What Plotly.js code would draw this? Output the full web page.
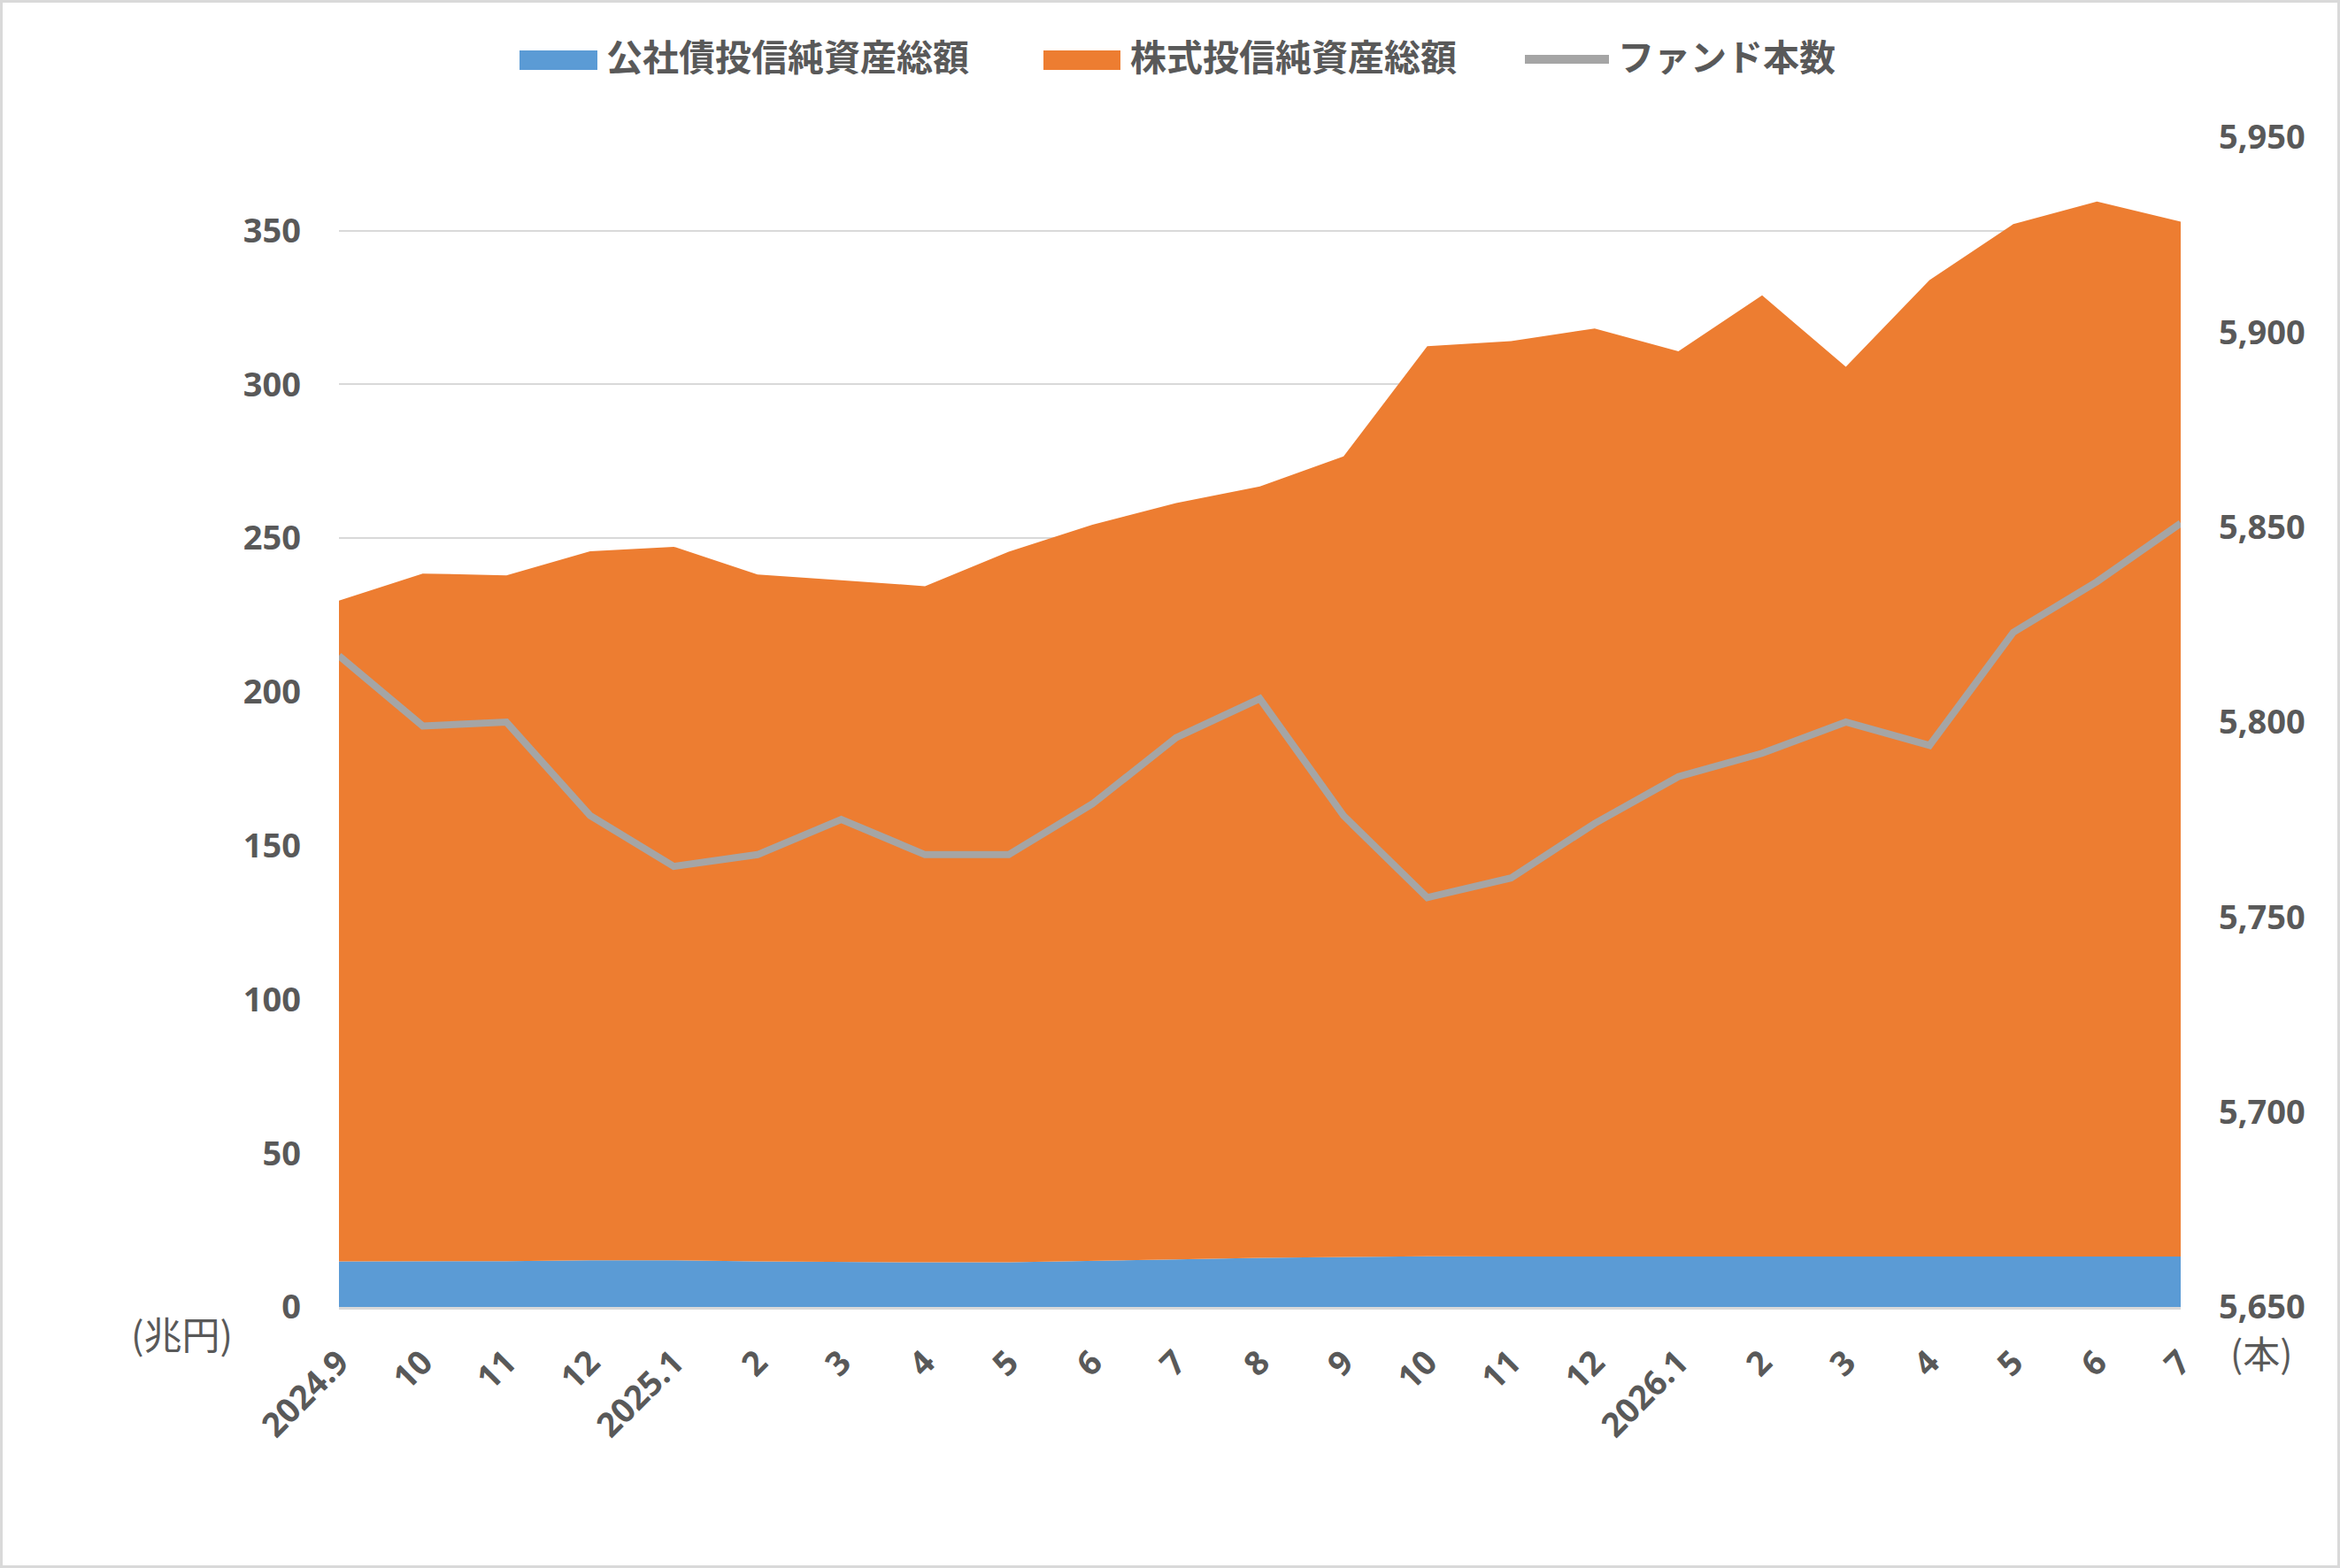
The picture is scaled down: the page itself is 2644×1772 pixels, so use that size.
<!DOCTYPE html>
<html>
<head>
<meta charset="utf-8">
<script src="https://cdn.plot.ly/plotly-3.0.1.min.js"></script>
<style>
  html, body { margin: 0; padding: 0; background: #ffffff; }
  #wrap { position: relative; width: 2644px; height: 1772px; }
  #chart { width: 2644px; height: 1772px; }
  #frame { position: absolute; left: 0; top: 0; width: 2644px; height: 1772px;
           box-sizing: border-box; border: 3px solid #d9d9d9; pointer-events: none; }
</style>
</head>
<body>
<div id="wrap"><div id="chart"></div><div id="frame"></div></div>
<script>
// ---- data ----
const monthLabels = ["2024.9","10","11","12","2025.1","2","3","4","5","6","7","8","9","10","11","12","2026.1","2","3","4","5","6","7"];
const bondNetAssets = [14.8, 14.8, 14.9, 15.2, 15.2, 14.8, 14.6, 14.5, 14.5, 14.9, 15.5, 16.0, 16.2, 16.5, 16.4, 16.4, 16.3, 16.4, 16.3, 16.3, 16.3, 16.4, 16.4];
const stockNetAssets = [214.9, 223.7, 223.0, 230.5, 232.0, 223.4, 221.7, 219.9, 231.1, 239.5, 245.9, 250.8, 260.4, 295.9, 297.7, 301.8, 294.5, 312.6, 289.4, 317.6, 335.8, 343.1, 336.5];
const fundCount = [5817, 5799, 5800, 5776, 5763, 5766, 5775, 5766, 5766, 5779, 5796, 5806, 5776, 5755, 5760, 5774, 5786, 5792, 5800, 5794, 5823, 5836, 5851];
const seriesNames = ["公社債投信純資産総額", "株式投信純資産総額", "ファンド本数"];
const leftTicks = [0, 50, 100, 150, 200, 250, 300, 350];
const rightTicks = [5650, 5700, 5750, 5800, 5850, 5900, 5950];
const leftUnit = "(兆円)";
const rightUnit = "(本)";

const xIdx = monthLabels.map((_, i) => i);

const BLUE = "#5b9bd5", ORANGE = "#ed7d31", GRAY = "#a5a5a5", TXT = "#595959", GRID = "#d9d9d9";
const NUMFONT = "Open Sans, Noto Sans CJK JP, sans-serif";
const JPFONT = "Noto Sans CJK JP, sans-serif";

const traces = [
  { x: xIdx, y: bondNetAssets, name: seriesNames[0], type: "scatter", mode: "lines",
    stackgroup: "assets", line: { width: 0, color: BLUE }, fillcolor: BLUE, hoverinfo: "skip" },
  { x: xIdx, y: stockNetAssets, name: seriesNames[1], type: "scatter", mode: "lines",
    stackgroup: "assets", line: { width: 0, color: ORANGE }, fillcolor: ORANGE, hoverinfo: "skip" },
  { x: xIdx, y: fundCount, name: seriesNames[2], type: "scatter", mode: "lines", yaxis: "y2",
    line: { width: 8, color: GRAY }, hoverinfo: "skip" }
];

// plot area in page pixels
const PL = 383, PR = 2464, PT = 155, PB = 1477;
const px = v => (v - PL) / (PR - PL);
const py = v => (PB - v) / (PB - PT);

const legendItems = [
  { kind: "rect", color: BLUE, x0: 587, x1: 675, tx: 683, name: seriesNames[0] },
  { kind: "rect", color: ORANGE, x0: 1179, x1: 1266, tx: 1275, name: seriesNames[1] },
  { kind: "line", color: GRAY, x0: 1723, x1: 1818, tx: 1826, name: seriesNames[2] }
];
const shapes = [];
const annotations = [];
legendItems.forEach(it => {
  if (it.kind === "rect") {
    shapes.push({ type: "rect", xref: "paper", yref: "paper", x0: px(it.x0), x1: px(it.x1),
      y0: py(79), y1: py(57), fillcolor: it.color, line: { width: 0 } });
  } else {
    shapes.push({ type: "line", xref: "paper", yref: "paper", x0: px(it.x0), x1: px(it.x1),
      y0: py(67), y1: py(67), line: { width: 10, color: it.color } });
  }
  annotations.push({ xref: "paper", yref: "paper", x: px(it.tx), y: py(62), xanchor: "left", yanchor: "middle",
    text: it.name, showarrow: false, font: { family: JPFONT, size: 41, color: TXT, weight: 700 } });
});
annotations.push({ xref: "paper", yref: "paper", x: px(205), y: py(1506), xanchor: "center", yanchor: "middle",
  text: leftUnit, showarrow: false, font: { family: JPFONT, size: 43, color: TXT } });
annotations.push({ xref: "paper", yref: "paper", x: px(2555), y: py(1527), xanchor: "center", yanchor: "middle",
  text: rightUnit, showarrow: false, font: { family: JPFONT, size: 42, color: TXT } });

const tickFont = { family: NUMFONT, size: 38, color: TXT, weight: 700 };

const layout = {
  width: 2644, height: 1772,
  paper_bgcolor: "#ffffff", plot_bgcolor: "#ffffff",
  margin: { l: PL, r: 2644 - PR, t: PT, b: 1772 - PB, pad: 0 },
  showlegend: false,
  hovermode: false,
  xaxis: {
    range: [0, monthLabels.length - 1],
    tickmode: "array", tickvals: xIdx, ticktext: monthLabels,
    tickangle: -45, tickfont: tickFont, ticks: "", ticklabelstandoff: 22,
    showgrid: false, zeroline: false,
    showline: true, linecolor: GRID, linewidth: 3
  },
  yaxis: {
    range: [0, 380.4], tickmode: "array", tickvals: leftTicks,
    tickfont: tickFont, ticks: "", ticklabelstandoff: 42,
    showgrid: true, gridcolor: GRID, gridwidth: 2,
    zeroline: false, showline: false
  },
  yaxis2: {
    overlaying: "y", side: "right",
    range: [5650, 5950], tickmode: "array", tickvals: rightTicks, tickformat: ",d",
    tickfont: tickFont, ticks: "", ticklabelstandoff: 42,
    showgrid: false, zeroline: false, showline: false
  },
  shapes: shapes,
  annotations: annotations
};

Plotly.newPlot("chart", traces, layout, { staticPlot: true, displayModeBar: false });
</script>
</body>
</html>
